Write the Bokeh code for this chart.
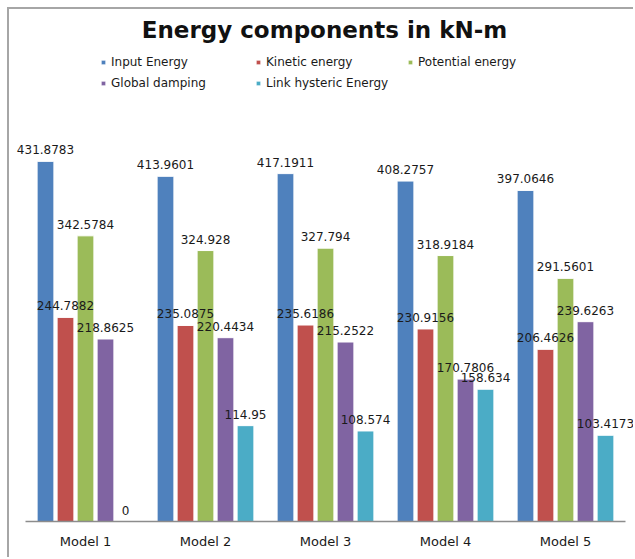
from bokeh.plotting import figure
from bokeh.models import (ColumnDataSource, Range1d, FactorRange, Label, LabelSet,
                          Legend, LegendItem)
from bokeh.transform import dodge
from bokeh.core.properties import value
from bokeh.embed import file_html
from bokeh.resources import INLINE

# Energy components (kN-m) for each model
models = ["Model 1", "Model 2", "Model 3", "Model 4", "Model 5"]
series_names = ["Input Energy", "Kinetic energy", "Potential energy",
                "Global damping", "Link hysteric Energy"]
input_energy = [431.8783, 413.9601, 417.1911, 408.2757, 397.0646]
kinetic_energy = [244.7882, 235.0875, 235.6186, 230.9156, 206.4626]
potential_energy = [342.5784, 324.928, 327.794, 318.9184, 291.5601]
global_damping = [218.8625, 220.4434, 215.2522, 170.7806, 239.6263]
link_hysteric_energy = [0, 114.95, 108.574, 158.634, 103.4173]

series_values = [input_energy, kinetic_energy, potential_energy,
                 global_damping, link_hysteric_energy]
colors = ["#4F81BD", "#C0504D", "#9BBB59", "#8064A2", "#4BACC6"]
offsets = [-1 / 3, -1 / 6, 0.0, 1 / 6, 1 / 3]


def fmt(v):
    s = "%.4f" % v
    return s.rstrip("0").rstrip(".")


# a little room on both sides of the categories so the outer value labels fit
p = figure(
    width=626, height=550,
    x_range=FactorRange(factors=models, range_padding=1 / 12,
                        range_padding_units="absolute"),
    y_range=Range1d(0, 614),
    output_backend="svg", toolbar_location=None,
    min_border_left=6, min_border_right=0,
    min_border_top=0, min_border_bottom=38,
    outline_line_color=None,
    background_fill_color="white", border_fill_color="white",
    margin=(7, 0, 0, 7),
    styles={"border-left": "2px solid #a6a6a6", "border-top": "2px solid #a6a6a6"},
)

p.xgrid.visible = False
p.ygrid.visible = False
p.yaxis.visible = False

xa = p.xaxis[0]
xa.bounds = (0, 5)
xa.axis_line_color = "#8c8c8c"
xa.axis_line_width = 1.5
xa.major_tick_line_color = None
xa.minor_tick_line_color = None
xa.major_tick_out = 0
xa.major_label_standoff = 12
xa.major_label_text_font = "DejaVu Sans"
xa.major_label_text_font_size = "13px"
xa.major_label_text_color = "#1a1a1a"

bars = []
sources = []
for vals, color, off in zip(series_values, colors, offsets):
    src = ColumnDataSource(dict(model=models, val=vals, lbl=[fmt(v) for v in vals]))
    sources.append(src)
    r = p.vbar(x=dodge("model", off, range=p.x_range), top="val", bottom=0,
               width=0.14, source=src, fill_color=color, line_color="white",
               line_width=1)
    bars.append(r)

# value labels drawn above all the bars
for src, off in zip(sources, offsets):
    p.add_layout(LabelSet(
        x=dodge("model", off, range=p.x_range), y="val", text="lbl",
        source=src, text_align="center", text_baseline="alphabetic",
        y_offset=7, text_font=value("DejaVu Sans"), text_font_size="12px",
        text_color="#1a1a1a"))

p.add_layout(Label(
    x=309, y=492, x_units="screen", y_units="screen",
    text="Energy components in kN-m", text_align="center",
    text_baseline="alphabetic", text_font="DejaVu Sans",
    text_font_style="bold", text_font_size="23px", text_color="#111111"))

# legend entries laid out in two rows
legend_pos = [(85, 452), (240, 452), (392, 452), (85, 431), (240, 431)]
for name, r, loc in zip(series_names, bars, legend_pos):
    leg = Legend(items=[LegendItem(label=name, renderers=[r])], location=loc,
                 orientation="horizontal", padding=0, margin=0, spacing=0,
                 border_line_color=None, background_fill_alpha=0,
                 glyph_width=6, glyph_height=6, label_standoff=5,
                 label_height=14, label_text_font="DejaVu Sans",
                 label_text_font_size="12px", label_text_color="#1a1a1a")
    p.add_layout(leg)

open("out.html", "w").write(file_html(p, INLINE))
